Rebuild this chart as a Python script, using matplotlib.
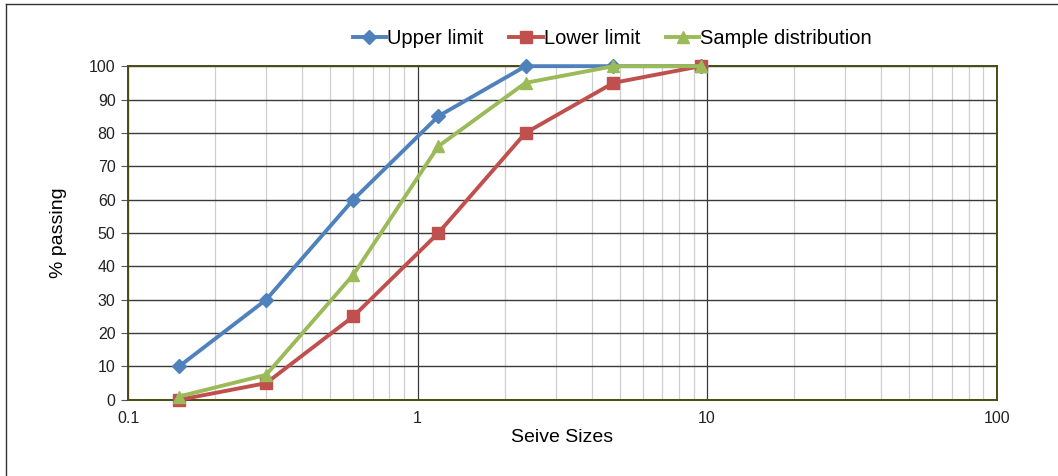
import matplotlib
matplotlib.use("Agg")
import matplotlib.pyplot as plt
from matplotlib.lines import Line2D
from matplotlib.ticker import LogLocator, FixedLocator, NullFormatter

plt.rcParams['font.family'] = ['Liberation Sans', 'DejaVu Sans']

# Sieve sizes (mm) and percentage passing
sieve_sizes = [0.15, 0.3, 0.6, 1.18, 2.36, 4.75, 9.5]
upper_limit = [10, 30, 60, 85, 100, 100, 100]
lower_limit = [0, 5, 25, 50, 80, 95, 100]
sample_distribution = [1, 7.5, 37.5, 76, 95, 100, 100]

x_ticks = [0.1, 1, 10, 100]
x_tick_labels = ["0.1", "1", "10", "100"]
y_ticks = list(range(0, 101, 10))

fig = plt.figure(figsize=(10.58, 4.76), dpi=100)
ax = fig.add_axes([0.121, 0.160, 0.821, 0.701])

ax.plot(sieve_sizes, upper_limit, color="#4F81BD", lw=2.8, marker="D",
        ms=7, label="Upper limit", zorder=3, clip_on=False)
ax.plot(sieve_sizes, lower_limit, color="#C0504D", lw=2.8, marker="s",
        ms=9, label="Lower limit", zorder=4, clip_on=False)
ax.plot(sieve_sizes, sample_distribution, color="#9BBB59", lw=2.8, marker="^",
        ms=9, label="Sample distribution", zorder=5, clip_on=False)

ax.set_xscale("log")
ax.set_xlim(0.1, 100)
ax.set_ylim(0, 100)
ax.xaxis.set_major_locator(FixedLocator(x_ticks))
ax.set_xticklabels(x_tick_labels)
ax.xaxis.set_minor_locator(LogLocator(base=10, subs=range(2, 10)))
ax.xaxis.set_minor_formatter(NullFormatter())
ax.set_yticks(y_ticks)

ax.grid(which="major", axis="y", color="#3a3a3a", lw=1.0)
ax.grid(which="major", axis="x", color="#3a3a3a", lw=0.9)
ax.grid(which="minor", axis="x", color="#cfcfcf", lw=0.9)
ax.set_axisbelow(True)

for side in ["top", "right", "bottom", "left"]:
    ax.spines[side].set_color("#4b4b16")
    ax.spines[side].set_linewidth(1.4)

ax.tick_params(axis="both", which="major", labelsize=11.5, colors="#222222")
ax.tick_params(axis="y", length=5, color="#555555", pad=4)
ax.tick_params(axis="x", which="both", length=0, pad=8)

ax.set_xlabel("Seive Sizes", fontsize=14, labelpad=2)
ax.set_ylabel("% passing", fontsize=14, labelpad=16)

ax.legend(loc="center", bbox_to_anchor=(0.5575, 1 + 28 / 334), ncol=3,
          frameon=False, fontsize=14.5, handlelength=1.65, handletextpad=0.05,
          columnspacing=1.3, borderaxespad=0.0, borderpad=0.0)

# Outer chart border
fig.add_artist(Line2D([6/1058, 6/1058], [0, 1 - 4/476], transform=fig.transFigure,
                      color="#333333", lw=1))
fig.add_artist(Line2D([6/1058, 1], [1 - 4/476, 1 - 4/476], transform=fig.transFigure,
                      color="#333333", lw=1))

fig.savefig("out.png", dpi=100)
